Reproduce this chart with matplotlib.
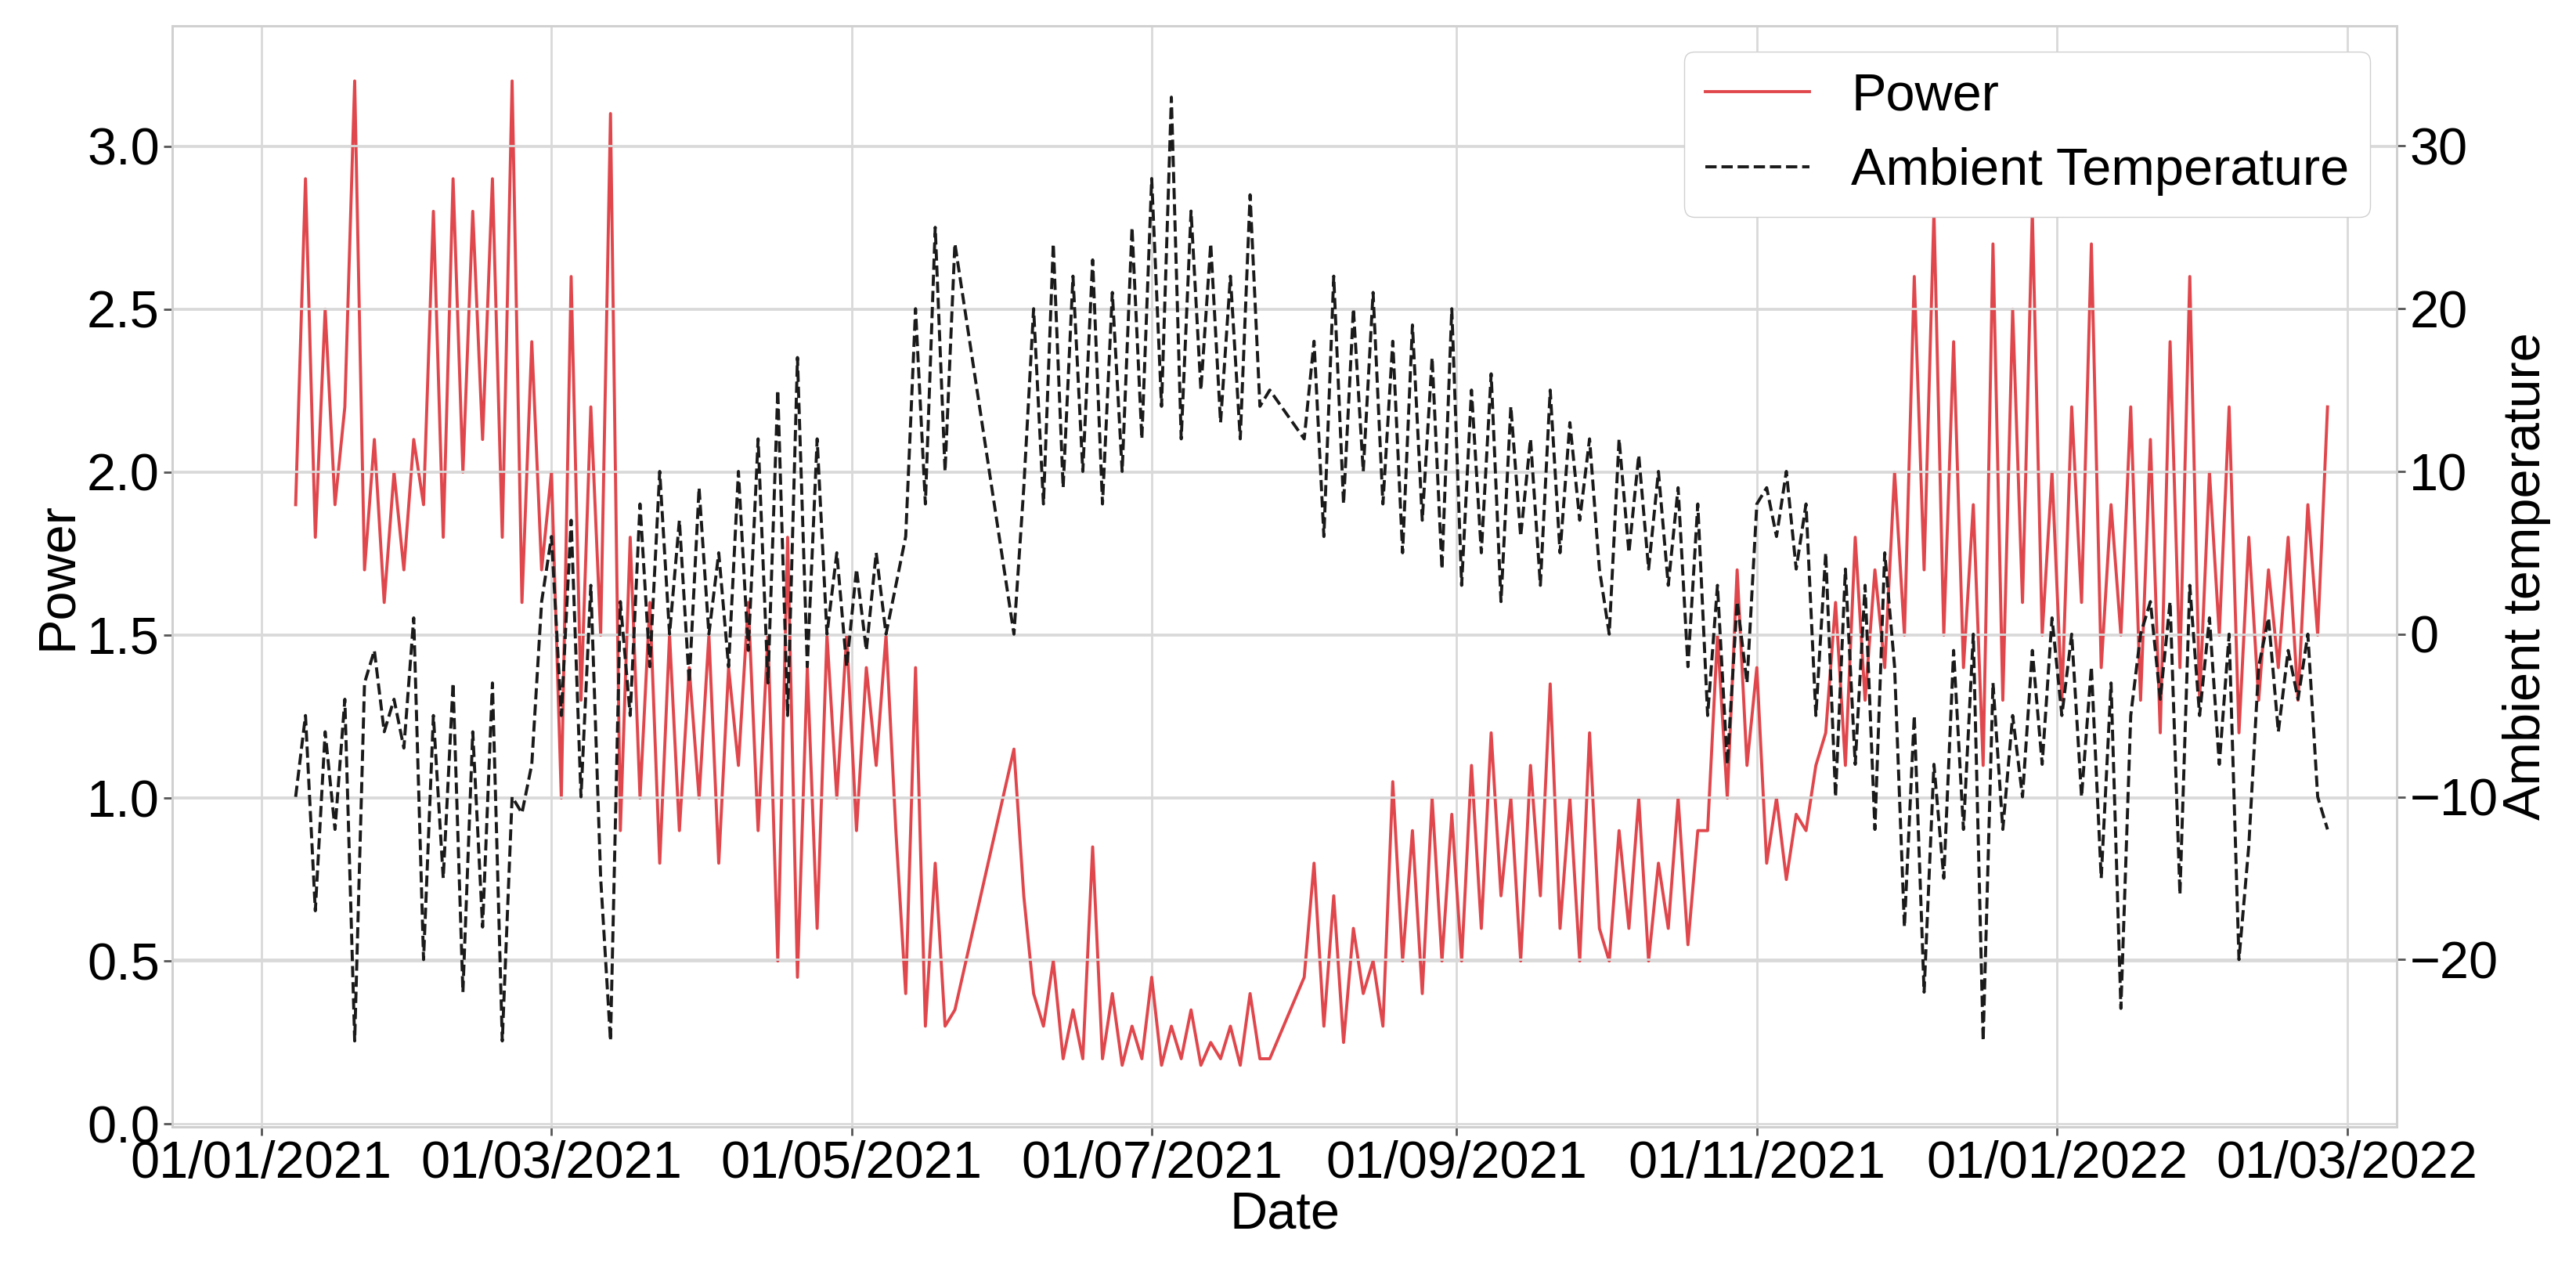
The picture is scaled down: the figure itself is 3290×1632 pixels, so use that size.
import datetime as dt
import matplotlib
matplotlib.use("Agg")
import matplotlib.pyplot as plt
import matplotlib.dates as mdates
import numpy as np

START = dt.date(2021, 1, 1)

# day offsets from 01/01/2021 (gaps where the source has missing data)
days_a = list(range(7, 142, 2))
days_b = list(range(153, 206, 2))
days_c = list(range(212, 421, 2))
DAYS = days_a + days_b + days_c

power = [
    1.9, 2.9, 1.8, 2.5, 1.9, 2.2, 3.2,
    1.7, 2.1, 1.6, 2.0, 1.7, 2.1,
    1.9, 2.8, 1.8, 2.9, 2.0, 2.8, 2.1, 2.9, 1.8, 3.2,
    1.6, 2.4, 1.7, 2.0,
    1.0, 2.6, 1.3, 2.2, 1.5, 3.1,
    0.9, 1.8, 1.0, 1.6, 0.8, 1.5, 0.9, 1.4, 1.0, 1.5, 0.8, 1.4, 1.1, 1.6, 0.9, 1.5,
    0.5, 1.8, 0.45, 1.4, 0.6, 1.5,
    1.0, 1.5, 0.9, 1.4, 1.1, 1.5, 0.9,
    0.4, 1.4, 0.3, 0.8, 0.3, 0.35,
    1.15, 0.7, 0.4, 0.3, 0.5, 0.2, 0.35, 0.2, 0.85, 0.2, 0.4, 0.18, 0.3, 0.2,
    0.45, 0.18, 0.3, 0.2, 0.35, 0.18, 0.25, 0.2, 0.3, 0.18, 0.4, 0.2, 0.2,
    0.45, 0.8, 0.3, 0.7, 0.25, 0.6, 0.4, 0.5, 0.3, 1.05, 0.5, 0.9, 0.4, 1.0, 0.5, 0.95,
    0.5, 1.1, 0.6, 1.2, 0.7, 1.0, 0.5, 1.1, 0.7, 1.35, 0.6, 1.0, 0.5, 1.2, 0.6,
    0.5, 0.9, 0.6, 1.0, 0.5, 0.8, 0.6, 1.0, 0.55, 0.9,
    0.9, 1.5, 1.0, 1.7, 1.1, 1.4,
    0.8, 1.0, 0.75, 0.95, 0.9, 1.1,
    1.2, 1.6, 1.1, 1.8, 1.3, 1.7, 1.4, 2.0,
    1.5, 2.6, 1.7, 2.8, 1.5, 2.4, 1.4, 1.9,
    1.1, 2.7, 1.3, 2.5, 1.6, 2.8, 1.5, 2.0,
    1.3, 2.2, 1.6, 2.7, 1.4, 1.9, 1.5, 2.2, 1.3, 2.1,
    1.2, 2.4, 1.4, 2.6, 1.3, 2.0, 1.5, 2.2, 1.2, 1.8,
    1.3, 1.7, 1.4, 1.8, 1.3, 1.9, 1.5, 2.2,
]

temperature = [
    -10, -5, -17, -6, -12, -4, -25,
    -3, -1, -6, -4, -7, 1,
    -20, -5, -15, -3, -22, -6, -18, -3, -25, -10,
    -11, -8, 2, 6,
    -5, 7, -10, 3, -15, -25,
    2, -5, 8, -2, 10, 0, 7, -3, 9, 0, 5, -2, 10, -1, 12, -3,
    15, -5, 17, -2, 12, 0,
    5, -2, 4, -1, 5, 0, 3,
    6, 20, 8, 25, 10, 24,
    0, 9, 20, 8, 24, 9, 22, 10, 23, 8, 21, 10, 25, 12,
    28, 14, 33, 12, 26, 15, 24, 13, 22, 12, 27, 14, 15,
    12, 18, 6, 22, 8, 20, 10, 21, 8, 18, 5, 19, 7, 17, 4, 20,
    3, 15, 5, 16, 2, 14, 6, 12, 3, 15, 5, 13, 7, 12, 4,
    0, 12, 5, 11, 4, 10, 3, 9, -2, 8,
    -5, 3, -8, 2, -3, 8,
    9, 6, 10, 4, 8, -5,
    5, -10, 4, -8, 3, -12, 5, -2,
    -18, -5, -22, -8, -15, -1, -12, 0,
    -25, -3, -12, -5, -10, -1, -8, 1,
    -5, 0, -10, -2, -15, -3, -23, -5, 0, 2,
    -4, 2, -16, 3, -5, 1, -8, 0, -20, -13,
    -2, 1, -6, -1, -4, 0, -10, -12,
]

dates = [START + dt.timedelta(days=d) for d in DAYS]

plt.rcParams["font.family"] = ["Arial", "Liberation Sans", "DejaVu Sans"]
plt.rcParams["font.size"] = 48

fig, ax = plt.subplots(figsize=(32.91, 16.32), dpi=100)
fig.subplots_adjust(left=0.067, right=0.93, top=0.98, bottom=0.118)
ax2 = ax.twinx()

l1, = ax.plot(dates, power, color="#e0474c", lw=2.8, label="Power")
l2, = ax2.plot(dates, temperature, color="#1a1a1a", lw=2.8, ls="--",
               label="Ambient Temperature")

ax.set_ylim(-0.01, 3.37)
ax2.set_ylim(-30.3, 37.4)
ax.set_xlim(dt.date(2020, 12, 14), dt.date(2022, 3, 11))
ax.set_yticks([0.0, 0.5, 1.0, 1.5, 2.0, 2.5, 3.0])
ax2.set_yticks([-20, -10, 0, 10, 20, 30])
ax.xaxis.set_major_locator(mdates.MonthLocator(bymonth=[1, 3, 5, 7, 9, 11]))
ax.xaxis.set_major_formatter(mdates.DateFormatter("%d/%m/%Y"))

for a in (ax, ax2):
    a.grid(True, color="#d9d9d9", lw=2)
    a.set_axisbelow(True)
    for s in a.spines.values():
        s.set_color("#d0d0d0")
        s.set_linewidth(2)
    a.tick_params(length=8, color="#555555", width=2, pad=4)
ax2.grid(False, axis="x")

ax.set_xlabel("Date", labelpad=2)
ax.set_ylabel("Power")
ax2.set_ylabel("Ambient temperature")

ax2.legend([l1, l2], ["Power", "Ambient Temperature"], loc="upper right",
           fontsize=48, framealpha=1, edgecolor="#d0d0d0")

fig.savefig("out.png")
